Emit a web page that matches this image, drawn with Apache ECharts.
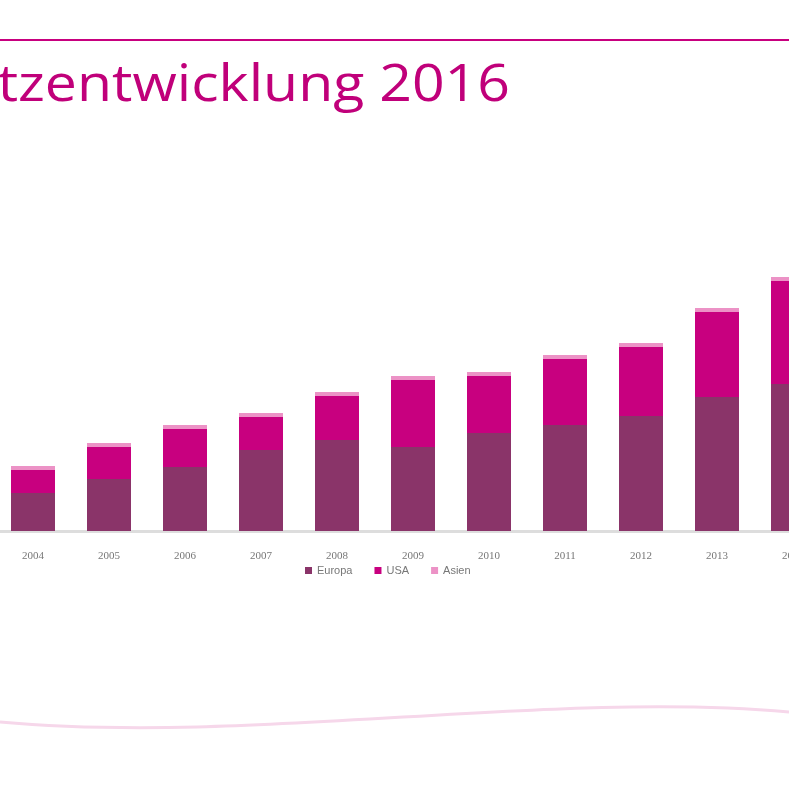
<!DOCTYPE html>
<html>
<head>
<meta charset="utf-8">
<script src="https://cdn.jsdelivr.net/npm/echarts@6/dist/echarts.min.js"></script>
<style>html,body{margin:0;padding:0;background:#fff}#c{width:789px;height:789px}</style>
</head>
<body>
<div id="c"></div>
<script>
var jahre = ['2004','2005','2006','2007','2008','2009','2010','2011','2012','2013','2014'];
var europa = [38, 52, 64, 81, 91, 84, 98, 106, 115, 134, 147];
var usa = [23, 32, 38, 33, 44, 67, 57, 66, 69, 85, 103];
var asien = [4, 4, 4, 4, 4, 4, 4, 4, 4, 4, 4];

var chart = echarts.init(document.getElementById('c'));
chart.setOption({
    backgroundColor: '#fff',
    animation: false,
    graphic: [
        {type: 'rect', shape: {x: 0, y: 39, width: 789, height: 2}, style: {fill: '#c8007f'}},
        // Titel ist links angeschnitten
        {type: 'text', x: 510, y: 60, scaleX: 1.1, style: {text: 'Umsatzentwicklung 2016', fill: '#c0007a',
            font: '52px "Open Sans", sans-serif', textAlign: 'right'}},
        {type: 'bezierCurve', shape: {x1: 0, y1: 722, x2: 789, y2: 712, cpx1: 250, cpy1: 745, cpx2: 550, cpy2: 690},
            style: {stroke: '#f6d7ea', lineWidth: 3}}
    ],
    legend: {
        bottom: 208, left: 300, itemWidth: 7, itemHeight: 7, itemGap: 22, icon: 'rect',
        textStyle: {color: '#777', fontSize: 11}
    },
    grid: {left: -5, right: -42, top: 131, height: 400, outerBoundsMode: 'none', containLabel: false},
    xAxis: {
        type: 'category', data: jahre,
        axisLine: {lineStyle: {color: '#ddd', width: 3}},
        axisTick: {show: false},
        axisLabel: {color: '#777', fontSize: 11, margin: 20, fontFamily: 'serif'}
    },
    yAxis: {type: 'value', min: 0, max: 400, show: false, splitLine: {show: false}},
    series: [
        {name: 'Europa', type: 'bar', stack: 'a', barWidth: 44, data: europa, itemStyle: {color: '#8a3469'}},
        {name: 'USA', type: 'bar', stack: 'a', data: usa, itemStyle: {color: '#c8007f'}},
        {name: 'Asien', type: 'bar', stack: 'a', data: asien, itemStyle: {color: '#ec92c6'}}
    ]
});
</script>
</body>
</html>
